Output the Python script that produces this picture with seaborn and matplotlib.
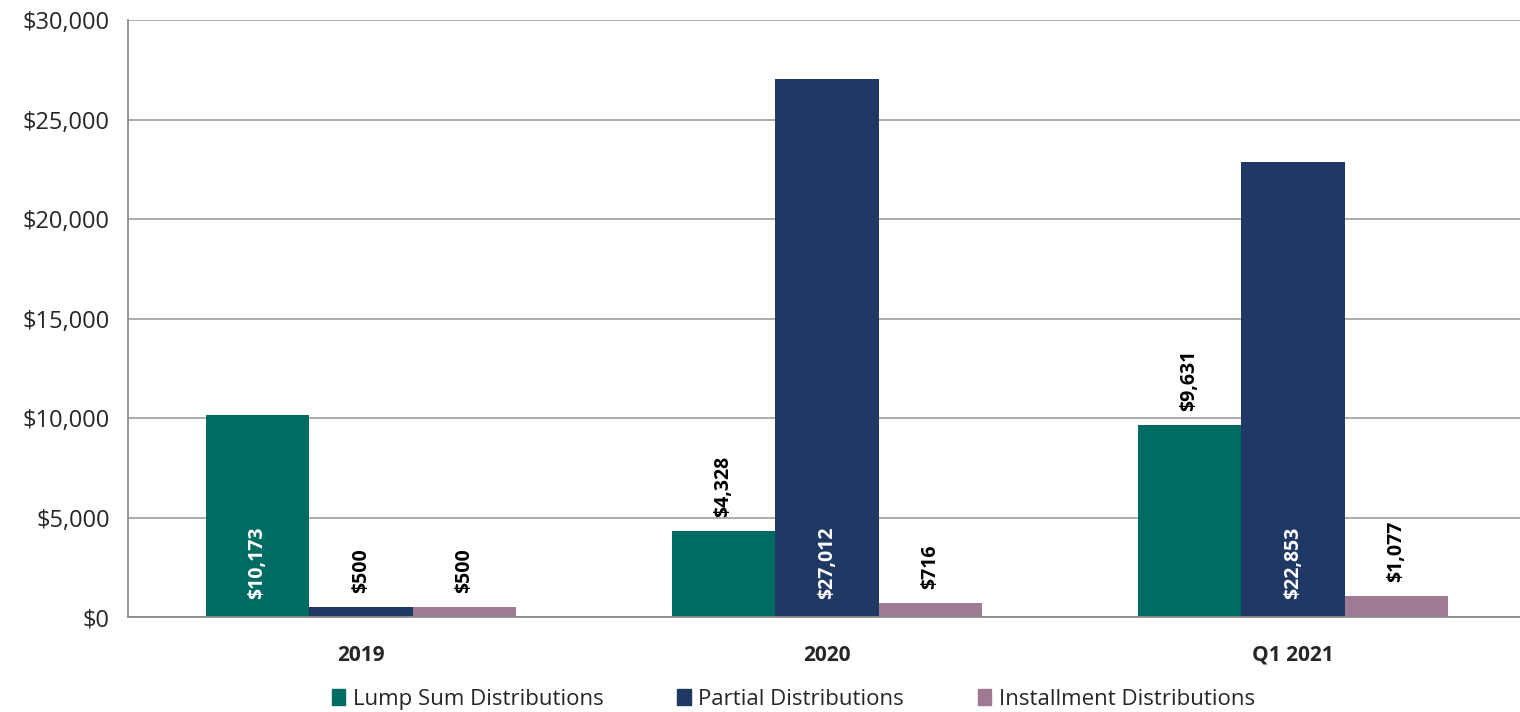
import pandas as pd
import seaborn as sns
from matplotlib import pyplot as plt
from matplotlib.ticker import FuncFormatter, FixedLocator

categories = ['2019', '2020', 'Q1 2021']
series = ['Lump Sum Distributions', 'Partial Distributions', 'Installment Distributions']
lump_sum = [10173, 4328, 9631]
partial = [500, 27012, 22853]
installment = [500, 716, 1077]
colors = ['#006B63', '#203864', '#9E7B93']

values = {series[0]: lump_sum, series[1]: partial, series[2]: installment}
df = pd.DataFrame([
    {'period': c, 'series': s, 'value': values[s][i]}
    for s in series for i, c in enumerate(categories)
])

sns.set_style('white')
plt.rcParams['font.family'] = ['Open Sans', 'DejaVu Sans']

fig = plt.figure(figsize=(15.2, 7.12), dpi=100)
ax = fig.add_axes([0.0842, 0.1334, 0.9197, 0.8385])

sns.barplot(data=df, x='period', y='value', hue='series', order=categories,
            hue_order=series, palette=colors, width=0.667, saturation=1,
            linewidth=0, ax=ax, legend=True)

ax.set_ylim(0, 30000)
ax.set_xlim(-0.5, 2.5)
ax.yaxis.set_major_locator(FixedLocator(range(0, 30001, 5000)))
ax.yaxis.set_major_formatter(FuncFormatter(lambda v, p: f'${v:,.0f}'))
ax.grid(axis='y', color='#A6A6A6', linewidth=1.3)
ax.set_axisbelow(True)
ax.set_xlabel('')
ax.set_ylabel('')

for side in ['top', 'right']:
    ax.spines[side].set_visible(False)
for side in ['left', 'bottom']:
    ax.spines[side].set_color('#8C8C8C')
    ax.spines[side].set_linewidth(1.3)

ax.tick_params(axis='y', length=8, color='#8C8C8C', width=1.3, labelsize=17, pad=5)
ax.tick_params(axis='x', which='major', length=0, labelsize=15, pad=20)
ax.set_xticks([-0.5, 0.5, 1.5, 2.5], minor=True)
ax.tick_params(axis='x', which='minor', length=8, color='#8C8C8C', width=1.3)
for lbl in ax.get_xticklabels():
    lbl.set_fontweight('bold')

# value labels
for s_idx, container in enumerate(ax.containers):
    vals = values[series[s_idx]]
    for patch, v in zip(container, vals):
        xc = patch.get_x() + patch.get_width() / 2
        text = f'${v:,.0f}'
        if v > 10000:
            ax.annotate(text, (xc, 0), xytext=(0, 13), textcoords='offset points',
                        rotation=90, ha='center', va='bottom', color='white',
                        fontsize=14, fontweight='bold')
        else:
            ax.annotate(text, (xc, v), xytext=(0, 10), textcoords='offset points',
                        rotation=90, ha='center', va='bottom', color='black',
                        fontsize=14, fontweight='bold')

ax.legend_.remove()
handles = [plt.Rectangle((0, 0), 1, 1, color=c) for c in colors]
fig.legend(handles, series, loc='lower center', bbox_to_anchor=(0.522, -0.025),
           ncol=3, frameon=False, fontsize=16, handlelength=0.6, handleheight=0.7,
           handletextpad=0.35, columnspacing=3.3)

fig.savefig('out.png', dpi=100)
